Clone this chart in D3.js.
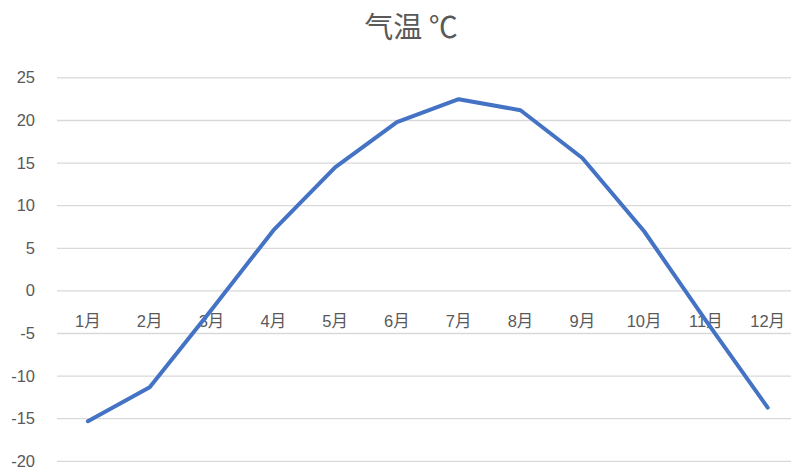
<!DOCTYPE html>
<html><head><meta charset="utf-8">
<script src="https://cdn.jsdelivr.net/npm/d3@7/dist/d3.min.js"></script>
<style>body{margin:0;background:#fff}svg{display:block}</style>
</head><body>
<script>
const months = ["1月","2月","3月","4月","5月","6月","7月","8月","9月","10月","11月","12月"];
const temps = [-15.3, -11.3, -2.2, 7.1, 14.5, 19.8, 22.5, 21.2, 15.6, 7.0, -3.5, -13.7];
const yTicks = [-20, -15, -10, -5, 0, 5, 10, 15, 20, 25];
const title = "气温 ℃";

const W = 791, H = 469;
const svg = d3.select("body").append("svg").attr("width", W).attr("height", H);
const font = "'Liberation Sans', Arial, 'Noto Sans CJK SC', sans-serif";

const x = d3.scaleBand().domain(months).range([57, 798.6]);
const y = d3.scaleLinear().domain([-20, 25]).range([461.3, 77.9]);

// gridlines
svg.append("g").selectAll("line").data(yTicks).join("line")
  .attr("x1", 57).attr("x2", 798).attr("y1", d => y(d)).attr("y2", d => y(d))
  .attr("stroke", "#d9d9d9").attr("stroke-width", 1.3);

// y labels
svg.append("g").selectAll("text").data(yTicks).join("text")
  .attr("x", 35).attr("y", d => y(d) + 5.5).attr("text-anchor", "end")
  .attr("font-family", font).attr("font-size", 16.5).attr("fill", "#595959")
  .text(d => d);

// category labels next to the zero axis
svg.append("g").selectAll("text").data(months).join("text")
  .attr("x", d => x(d) + x.bandwidth() / 2).attr("y", y(0) + 36)
  .attr("text-anchor", "middle")
  .attr("font-family", font).attr("font-size", 16.5).attr("fill", "#595959")
  .text(d => d);

// line
const line = d3.line()
  .x((d, i) => x(months[i]) + x.bandwidth() / 2)
  .y(d => y(d));
svg.append("path").datum(temps).attr("d", line)
  .attr("fill", "none").attr("stroke", "#4472c4").attr("stroke-width", 4)
  .attr("stroke-linejoin", "round").attr("stroke-linecap", "round");

// title
svg.append("text").attr("x", 411).attr("y", 38).attr("text-anchor", "middle")
  .attr("font-family", "'Noto Sans CJK SC', sans-serif").attr("font-size", 29)
  .attr("fill", "#595959").text(title);
</script>
</body></html>
